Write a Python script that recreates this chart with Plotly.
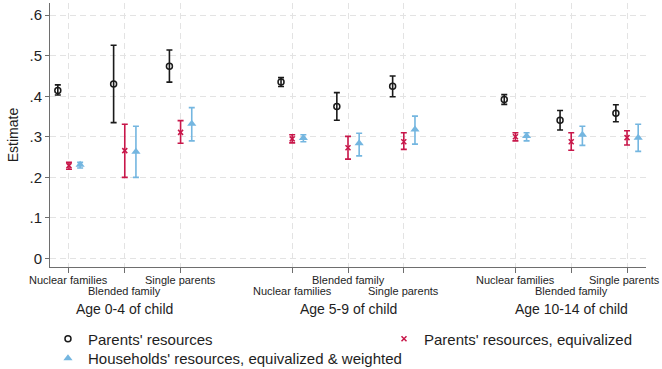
import plotly.graph_objects as go

# ---- data ----
age_groups = ["Age 0-4 of child", "Age 5-9 of child", "Age 10-14 of child"]
family_types = ["Nuclear families", "Blended family", "Single parents"]

# order: (age 0-4: nuclear, blended, single), (age 5-9: ...), (age 10-14: ...)
parents_est = [0.414, 0.430, 0.474, 0.435, 0.375, 0.425, 0.392, 0.341, 0.358]
parents_lo  = [0.403, 0.335, 0.435, 0.424, 0.341, 0.399, 0.380, 0.317, 0.337]
parents_hi  = [0.428, 0.526, 0.514, 0.446, 0.409, 0.450, 0.404, 0.365, 0.379]

equiv_est = [0.229, 0.266, 0.311, 0.295, 0.273, 0.288, 0.300, 0.288, 0.298]
equiv_lo  = [0.220, 0.200, 0.284, 0.285, 0.245, 0.269, 0.290, 0.267, 0.280]
equiv_hi  = [0.237, 0.331, 0.340, 0.305, 0.301, 0.310, 0.310, 0.310, 0.315]

hh_est = [0.231, 0.263, 0.332, 0.297, 0.284, 0.318, 0.302, 0.305, 0.298]
hh_lo  = [0.223, 0.200, 0.290, 0.288, 0.253, 0.282, 0.290, 0.279, 0.264]
hh_hi  = [0.237, 0.326, 0.372, 0.305, 0.309, 0.351, 0.310, 0.326, 0.331]

y_ticks = [0, 0.1, 0.2, 0.3, 0.4, 0.5, 0.6]
y_ticktext = ["0", ".1", ".2", ".3", ".4", ".5", ".6"]

series_names = ["Parents' resources",
                "Parents' resources, equivalized",
                "Households' resources, equivalized & weighted"]

# ---- layout helpers ----
positions = [g * 4 + c + 1 for g in range(len(age_groups)) for c in range(len(family_types))]
labels = [f for _ in age_groups for f in family_types]
offsets = [-0.2, 0.0, 0.2]

FONT = "Liberation Sans, Arial, sans-serif"
TXT = "#1e1e1e"
AX = "#6e6e6e"

fig = go.Figure()

def add_series(est, lo, hi, name, off, marker, color, thick, legend):
    fig.add_trace(go.Scatter(
        x=[p + off for p in positions], y=est, mode="markers", name=name,
        marker=marker, legend=legend,
        error_y=dict(type="data", symmetric=False,
                     array=[h - e for h, e in zip(hi, est)],
                     arrayminus=[e - l for e, l in zip(est, lo)],
                     color=color, thickness=thick, width=3),
        cliponaxis=False,
    ))

BLACK = "#1a1a1a"
RED = "#c8174a"
BLUE = "#74b6e0"

add_series(parents_est, parents_lo, parents_hi, series_names[0], offsets[0],
           dict(symbol="circle-open", size=6, color=BLACK, line=dict(width=1.5, color=BLACK)),
           BLACK, 1.6, "legend")
add_series(equiv_est, equiv_lo, equiv_hi, series_names[1], offsets[1],
           dict(symbol="x-thin-open", size=5, color=RED, line=dict(width=1.5, color=RED)),
           RED, 1.6, "legend2")
add_series(hh_est, hh_lo, hh_hi, series_names[2], offsets[2],
           dict(symbol="triangle-up", size=8, color=BLUE, line=dict(width=0)),
           BLUE, 1.6, "legend3")

# tick labels (alternating rows, as in the original)
n = len(positions)
for i, (px, lab) in enumerate(zip(positions, labels)):
    last = i == n - 1
    fig.add_annotation(x=px, xref="x", xshift=-3 if last else 0,
                       y=-0.0475 if i % 2 == 0 else -0.0905, yref="paper",
                       text=lab, showarrow=False,
                       xanchor="center", yanchor="middle",
                       font=dict(family=FONT, size=11, color=TXT))

for g, name in enumerate(age_groups):
    mid = positions[g * 3 + 1]
    fig.add_annotation(x=mid, xref="x", y=-0.1575, yref="paper", text=name, showarrow=False,
                       xanchor="center", yanchor="middle",
                       font=dict(family=FONT, size=14, color=TXT))

legend_common = dict(orientation="v", xanchor="left", yanchor="middle",
                     font=dict(family=FONT, size=15, color=TXT),
                     bgcolor="rgba(0,0,0,0)", itemsizing="trace")

fig.update_layout(
    width=662, height=369,
    margin=dict(l=50, r=16, t=3, b=102, autoexpand=False),
    paper_bgcolor="white", plot_bgcolor="white",
    font=dict(family=FONT, color=TXT, size=13),
    showlegend=True,
    legend=dict(x=-0.0034, y=-0.273, **legend_common),
    legend2=dict(x=0.5604, y=-0.273, **legend_common),
    legend3=dict(x=-0.0034, y=-0.347, **legend_common),
    xaxis=dict(range=[0.66, 11.34], tickvals=positions, ticktext=[""] * len(positions),
               ticks="outside", ticklen=5, tickcolor=AX, showline=True,
               linecolor=AX, linewidth=1, showgrid=True, gridcolor="#e3e3e3",
               griddash="6px,4px", gridwidth=1, zeroline=False, fixedrange=True),
    yaxis=dict(range=[-0.021, 0.63], tickvals=y_ticks, ticktext=y_ticktext,
               ticks="outside", ticklen=4, tickcolor=AX, showline=True,
               linecolor=AX, linewidth=1, showgrid=True, gridcolor="#e3e3e3",
               griddash="6px,4px", gridwidth=1, zeroline=False,
               tickfont=dict(size=15, family=FONT), ticklabelstandoff=0,
               title=dict(text="Estimate", standoff=7, font=dict(size=14, family=FONT)),
               automargin=False),
)

fig.write_html("out.html", config={"displayModeBar": False},
               post_script="document.body.style.margin='0';")
